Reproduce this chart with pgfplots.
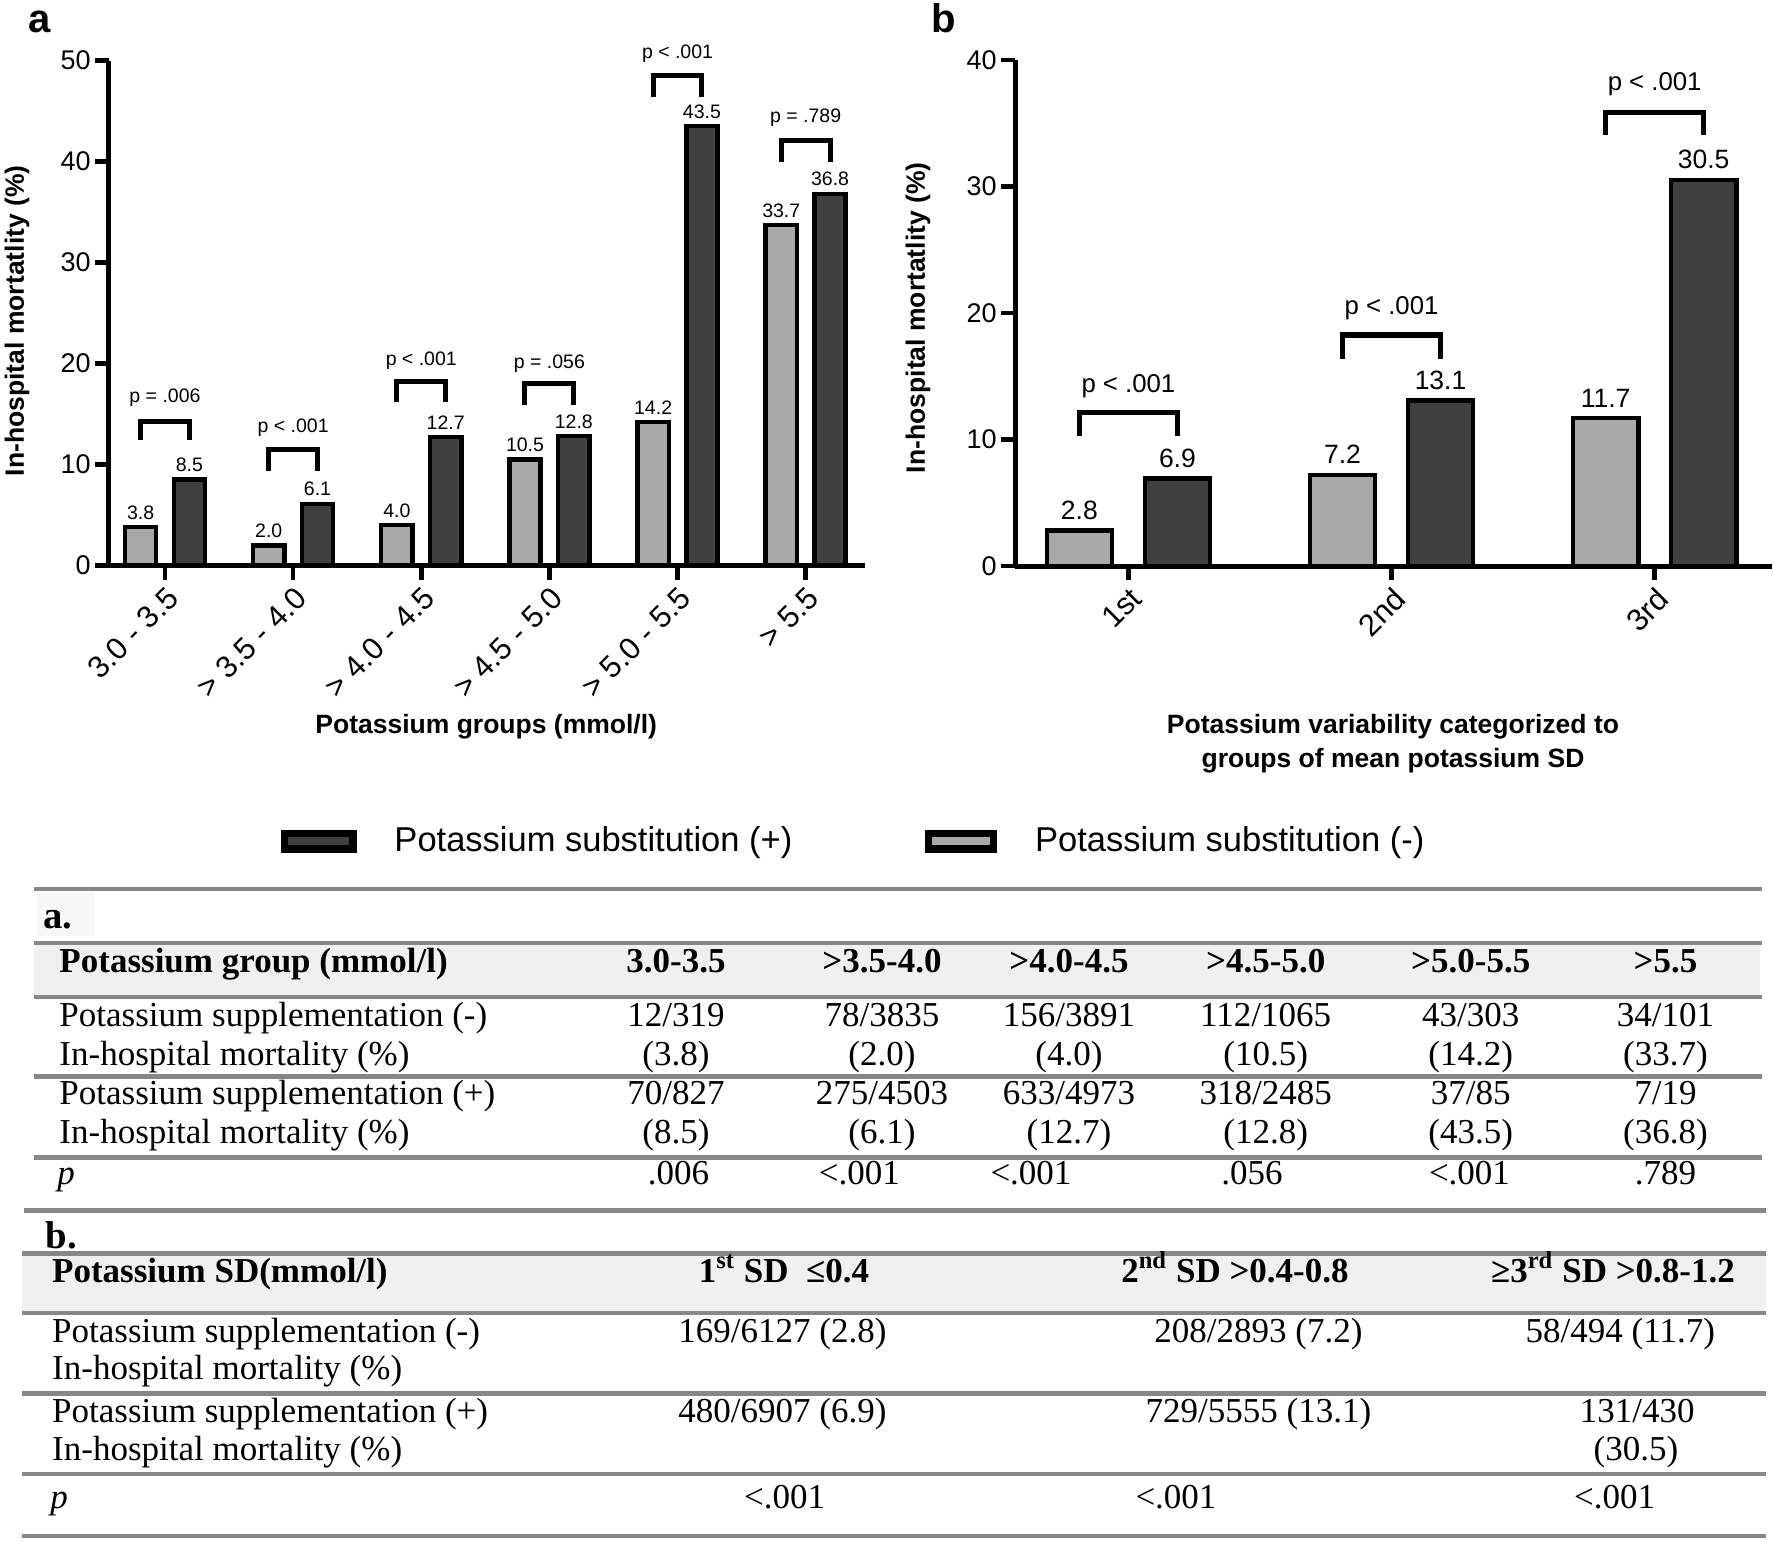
\documentclass[border=0pt]{standalone}
\usepackage{pgfplots}
\pgfplotsset{compat=1.18}
\usepackage{fontspec}
\setmainfont{Liberation Serif}
\newfontfamily\arial{Liberation Sans}
\definecolor{darkbar}{HTML}{404040}
\definecolor{lightbar}{HTML}{A8A8A8}
\definecolor{rulegray}{HTML}{878787}
\definecolor{bandgray}{HTML}{F0F0F0}
\newcommand{\fs}[1]{\fontsize{#1pt}{#1pt}\selectfont}
% bracket: #1 x, #2 half width, #3 bottom, #4 top, #5 text y, #6 text, #7 font size, #8 line width
\newcommand{\pbr}[8]{%
  \draw[line width=#8, line join=miter] ([xshift=-#2]axis cs:#1,#3) -- ([xshift=-#2]axis cs:#1,#4) -- ([xshift=#2]axis cs:#1,#4) -- ([xshift=#2]axis cs:#1,#3);
  \node[font=\arial\fs{#7}, inner sep=0pt] at (axis cs:#1,#5) {#6};}
\pgfplotsset{
  kstyle/.style={
    scale only axis, clip=false,
    axis lines=left, axis line style={-, line width=2pt, black},
    tick align=outside, major tick length=5.6pt,
    tick style={line width=1.8pt, black},
    ymin=0,
    ybar,
    /pgf/number format/assume math mode=true,
    yticklabel style={font=\arial\fs{10.8}, inner sep=1.5pt},
    xticklabel style={font=\arial\fs{12.3}, rotate=45, anchor=north east, inner sep=1.5pt},
    label style={font=\arial\bfseries\fs{10.6}},
    nodes near coords={\pgfmathprintnumber[fixed,fixed zerofill,precision=1,assume math mode=true]{\pgfplotspointmeta}},
  }
}
\begin{document}
\begin{tikzpicture}
\path[use as bounding box] (0,0) rectangle (709.2pt,-616.4pt);

% ---------------- Chart a ----------------
\begin{axis}[kstyle,
  at={(43.6pt,-226.2pt)}, anchor=south west,
  width=302.4pt, height=202pt,
  ymax=50, xmin=0.563, xmax=6.463,
  ytick={0,10,20,30,40,50},
  xtick={1,2,3,4,5,6},
  xticklabels={3.0 - 3.5, > 3.5 - 4.0, > 4.0 - 4.5, > 4.5 - 5.0, > 5.0 - 5.5, > 5.5},
  bar width=12.5pt,
  every node near coord/.append style={font=\arial\fs{7.8}, inner sep=2.2pt},
  xlabel={Potassium groups (mmol/l)},
  ylabel={In-hospital mortatlity (\%)},
  xlabel style={at={(axis description cs:0.499,-0.320)}, anchor=center},
  ylabel style={at={(axis description cs:-0.1217,0.4846)}, anchor=center},
]
\addplot[fill=lightbar, draw=black, line width=1.8pt, bar shift=-9.76pt]
  coordinates {(1,3.8) (2,2.0) (3,4.0) (4,10.5) (5,14.2) (6,33.7)};
\addplot[fill=darkbar, draw=black, line width=1.8pt, bar shift=9.76pt]
  coordinates {(1,8.5) (2,6.1) (3,12.7) (4,12.8) (5,43.5) (6,36.8)};
\pbr{1}{9.76pt}{12.46}{14.25}{16.6}{p = .006}{7.8}{2pt}
\pbr{2}{9.76pt}{9.4}{11.5}{13.6}{p < .001}{7.8}{2pt}
\pbr{3}{9.76pt}{16.2}{18.26}{20.3}{p < .001}{7.8}{2pt}
\pbr{4}{9.76pt}{15.9}{18.0}{20.0}{p = .056}{7.8}{2pt}
\pbr{5}{9.76pt}{46.4}{48.55}{50.7}{p < .001}{7.8}{2pt}
\pbr{6}{9.76pt}{40.0}{42.1}{44.3}{p = .789}{7.8}{2pt}
\end{axis}

% ---------------- Chart b ----------------
\begin{axis}[kstyle,
  at={(406pt,-226.4pt)}, anchor=south west,
  width=302.8pt, height=202.4pt,
  ymax=40, xmin=0.569, xmax=3.446,
  ytick={0,10,20,30,40},
  xtick={1,2,3},
  xticklabels={1st, 2nd, 3rd},
  bar width=26.1pt,
  every node near coord/.append style={font=\arial\fs{10.6}, inner sep=3.5pt},
  xlabel={Potassium variability categorized to\\groups of mean potassium SD},
  ylabel={In-hospital mortatlity (\%)},
  xlabel style={at={(axis description cs:0.4993,-0.352)}, anchor=center, align=center, font=\arial\bfseries\fontsize{10.6pt}{13.6pt}\selectfont},
  ylabel style={at={(axis description cs:-0.128,0.4907)}, anchor=center},
]
\addplot[fill=lightbar, draw=black, line width=1.8pt, bar shift=-19.6pt]
  coordinates {(1,2.8) (2,7.2) (3,11.7)};
\addplot[fill=darkbar, draw=black, line width=1.8pt, bar shift=19.6pt]
  coordinates {(1,6.9) (2,13.1) (3,30.5)};
\pbr{1}{19.6pt}{10.3}{12.15}{14.2}{p < .001}{10.3}{2.2pt}
\pbr{2}{19.6pt}{16.4}{18.25}{20.4}{p < .001}{10.3}{2.2pt}
\pbr{3}{19.6pt}{34.1}{35.86}{38.1}{p < .001}{10.3}{2.2pt}
\end{axis}

\begin{scope}[x=0.4pt, y=-0.4pt]
% panel letters
\node[anchor=base west, inner sep=0, font=\arial\bfseries\fs{16}] at (28,32) {a};
\node[anchor=base west, inner sep=0, font=\arial\bfseries\fs{16}] at (931,32) {b};
% legend
\draw[line width=2.9pt, fill=darkbar] (284.7,833.7) rectangle (353,849);
\node[anchor=base west, inner sep=0, font=\arial\fs{13.8}] at (394,851.7) {Potassium substitution (+)};
\draw[line width=2.9pt, fill=lightbar] (928.6,833.7) rectangle (993.7,849);
\node[anchor=base west, inner sep=0, font=\arial\fs{13.8}] at (1034.6,851.7) {Potassium substitution (-)};

% ---------------- Table a ----------------
\fill[black!3] (37,893) rectangle (95,936);
\fill[bandgray] (34,943) rectangle (1760,997);
\foreach \yy in {889,943,997,1076.5,1157.5} {\draw[rulegray, line width=1.7pt] (34,\yy) -- (1762,\yy);}
\draw[rulegray, line width=1.7pt] (24,1210.5) -- (1766,1210.5);
\begin{scope}[every node/.style={anchor=base, inner sep=0, font=\fs{14}}]
\node[anchor=base west, font=\bfseries\fs{15.5}] at (43,928) {a.};
\node[anchor=base west, font=\bfseries\fs{14}] at (59,972.5) {Potassium group (mmol/l)};
\foreach \xx/\tt in {676/3.0-3.5, 882/>3.5-4.0, 1069/>4.0-4.5, 1265.7/>4.5-5.0, 1470.7/>5.0-5.5, 1665.5/>5.5}
  {\node[font=\bfseries\fs{14}] at (\xx,972.5) {\tt};}
\node[anchor=base west] at (59,1026) {Potassium supplementation (-)};
\node[anchor=base west] at (59,1065) {In-hospital mortality (\%)};
\node[anchor=base west] at (59,1104) {Potassium supplementation (+)};
\node[anchor=base west] at (59,1143) {In-hospital mortality (\%)};
\node[anchor=base west] at (57,1184) {\itshape p};
\foreach \xx/\ta/\tb/\tc/\td in {676/12\slash 319/(3.8)/70\slash 827/(8.5), 882/78\slash 3835/(2.0)/275\slash 4503/(6.1), 1069/156\slash 3891/(4.0)/633\slash 4973/(12.7), 1265.7/112\slash 1065/(10.5)/318\slash 2485/(12.8), 1470.7/43\slash 303/(14.2)/37\slash 85/(43.5), 1665.5/34\slash 101/(33.7)/7\slash 19/(36.8)}
  {\node at (\xx,1026) {\ta}; \node at (\xx,1065) {\tb}; \node at (\xx,1104) {\tc}; \node at (\xx,1143) {\td};}
\foreach \xx/\tt in {678.4/.006, 859.3/<.001, 1031/<.001, 1252/.056, 1469.5/<.001, 1665.5/.789}
  {\node at (\xx,1184) {\tt};}
\end{scope}

% ---------------- Table b ----------------
\fill[bandgray] (22,1253.5) rectangle (1766,1313);
\foreach \yy in {1253.5,1313,1393.5,1474,1536} {\draw[rulegray, line width=1.7pt] (22,\yy) -- (1766,\yy);}
\begin{scope}[every node/.style={anchor=base, inner sep=0, font=\fs{14}}]
\node[anchor=base west, font=\bfseries\fs{15.5}] at (45,1248) {b.};
\node[anchor=base west, font=\bfseries\fs{14}] at (51.7,1282) {Potassium SD(mmol/l)};
\node[font=\bfseries\fs{14}] at (784,1282) {1\textsuperscript{st} SD\ \ ≤0.4};
\node[font=\bfseries\fs{14}] at (1235,1282) {2\textsuperscript{nd} SD >0.4-0.8};
\node[font=\bfseries\fs{14}] at (1613,1282) {≥3\textsuperscript{rd} SD >0.8-1.2};
\node[anchor=base west] at (51.7,1342) {Potassium supplementation (-)};
\node[anchor=base west] at (51.7,1379.5) {In-hospital mortality (\%)};
\node[anchor=base west] at (51.7,1422.5) {Potassium supplementation (+)};
\node[anchor=base west] at (51.7,1460) {In-hospital mortality (\%)};
\node[anchor=base west] at (50,1508) {\itshape p};
\node at (782.4,1342) {169/6127 (2.8)};
\node at (1258.5,1342) {208/2893 (7.2)};
\node at (1620.3,1342) {58/494 (11.7)};
\node at (782.4,1422.5) {480/6907 (6.9)};
\node at (1258.5,1422.5) {729/5555 (13.1)};
\node at (1637.2,1422.5) {131/430};
\node at (1636,1460) {(30.5)};
\node at (784.7,1508) {<.001};
\node at (1176,1508) {<.001};
\node at (1614.6,1508) {<.001};
\end{scope}
\end{scope}
\end{tikzpicture}
\end{document}
